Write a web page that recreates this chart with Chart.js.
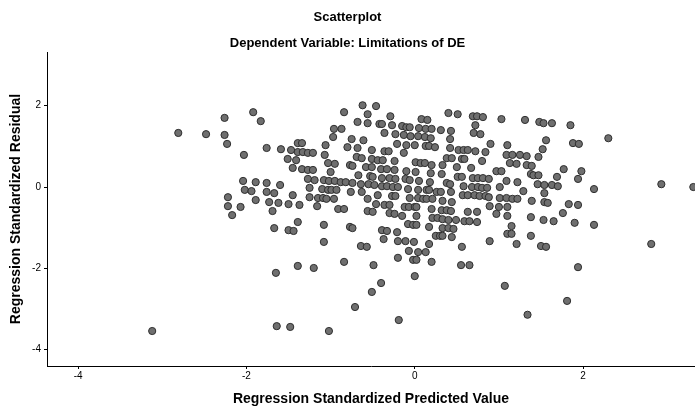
<!DOCTYPE html>
<html>
<head>
<meta charset="utf-8">
<script src="https://cdn.jsdelivr.net/npm/chart.js@4.4.1/dist/chart.umd.min.js"></script>
<style>
  html, body { margin: 0; padding: 0; background: #ffffff; }
  canvas { display: block; }
</style>
</head>
<body>
<canvas id="c" width="695" height="412"></canvas>
<script>
const chartTitle = 'Scatterplot';
const chartSubtitle = 'Dependent Variable: Limitations of DE';
const xAxisTitle = 'Regression Standardized Predicted Value';
const yAxisTitle = 'Regression Standardized Residual';
const xTicks = [-4, -2, 0, 2];
const yTicks = [-4, -2, 0, 2];

const predictedValues = [
  -1.92,-2.26,-1.83,-2.48,-2.26,-2.23,-1.76,-1.59,-1.47,-2.03,
  -0.62,-0.46,-0.84,-0.56,-0.29,-0.68,-0.56,-0.42,-0.39,-0.27,-0.96,-0.87,-0.36,-0.23,-0.97,-0.75,-0.61,-1.39,-1.34,-1.06,-0.21,-0.80,-0.68,-0.51,-0.36,-0.31,-1.39,-1.33,-1.27,-1.21,
  0.40,0.51,0.69,0.74,0.81,1.03,0.08,0.15,0.72,-0.15,-0.10,-0.06,0.05,0.13,0.20,0.31,0.43,0.70,0.78,-0.13,-0.05,0.04,0.12,0.19,0.42,0.90,-0.10,0.00,0.13,0.17,0.24,0.42,0.52,0.58,0.63,0.72,0.84,-0.13,
  1.31,1.48,1.53,1.63,1.85,2.30,1.56,1.10,1.88,1.95,1.52,1.09,1.16,1.25,1.33,1.47,
  -1.51,-1.41,-1.45,-2.04,-1.89,-1.76,-1.60,-2.02,-1.94,-1.76,-1.67,-1.45,-2.22,-1.89,-1.73,-1.62,-1.50,-2.22,-2.07,-1.69,-2.17,
  -1.07,-0.69,-0.63,-0.51,-0.44,-0.38,-0.24,-1.03,-0.95,-0.77,-0.74,-0.58,-0.51,-0.40,-0.33,-0.24,-1.34,-1.27,-1.21,-1.00,-0.67,-0.53,-0.50,-0.39,-0.30,-0.23,-1.27,-1.19,-1.08,-1.02,-0.95,-0.88,-0.82,-0.74,-0.64,-0.55,-0.48,-0.39,-0.33,-0.26,-0.20,-1.25,-1.10,-1.03,-0.99,-0.93,-0.76,-0.63,-0.44,-1.25,-1.15,-1.09,-1.05,-0.96,-0.56,-0.27,-0.23,-0.46,-0.36,-0.30,-1.37,-1.16,-0.91,-0.84,-0.56,-0.50,-0.30,-0.24,
  0.01,0.07,0.12,0.20,0.33,0.38,0.44,0.56,0.59,0.80,-0.10,0.01,0.19,0.32,0.50,0.67,0.97,1.03,-0.11,-0.06,0.05,0.18,0.38,0.42,0.51,0.56,0.69,0.75,0.81,0.88,-0.08,0.04,0.14,0.17,0.26,0.31,0.43,0.58,0.68,0.75,0.80,0.86,1.01,-0.06,0.04,0.10,0.14,0.21,0.33,0.44,0.57,0.63,0.71,0.77,0.84,0.88,1.01,-0.12,-0.07,0.00,0.02,0.20,0.32,0.38,0.43,0.63,0.74,0.89,1.00,0.97,
  1.13,1.21,1.33,1.39,1.77,1.98,1.38,1.41,1.47,1.69,1.94,1.09,1.22,1.46,1.54,1.63,1.70,1.29,2.13,1.54,1.09,1.16,1.22,1.39,1.54,1.58,1.83,1.94,1.10,1.76,1.10,1.38,
  -1.67,-1.50,-1.44,-1.65,
  -1.39,-1.08,-0.77,-0.74,-0.39,-0.33,-0.21,-1.08,-0.64,-0.57,-0.37,-0.20,-1.39,-1.20,-0.84,-0.49,-0.20,
  -0.15,0.02,0.21,0.27,0.33,0.40,0.49,0.59,0.65,0.74,-0.08,-0.02,0.02,0.17,0.33,0.40,0.46,0.25,0.30,0.33,0.44,-0.11,-0.01,0.17,0.89,-0.07,0.04,0.13,0.56,-0.02,0.02,0.20,0.55,0.65,0.00,
  1.53,1.65,1.90,2.13,1.15,1.10,1.15,1.38,1.21,1.50,1.56,1.94,
  -2.81,-3.12,-1.64,-1.48,-1.02,-0.71,-0.51,-0.40,-0.19,1.07,1.34,1.81,2.93,3.31,2.81
];

const residualValues = [
  1.84,1.70,1.62,1.30,1.28,1.06,0.96,0.93,0.91,0.79,
  2.01,1.99,1.84,1.79,1.74,1.60,1.57,1.55,1.55,1.52,1.43,1.43,1.33,1.30,1.23,1.18,1.15,1.08,1.08,1.03,1.06,0.98,0.96,0.91,0.88,0.88,0.86,0.86,0.84,0.84,
  1.82,1.79,1.74,1.74,1.72,1.67,1.67,1.65,1.52,1.50,1.47,1.47,1.45,1.43,1.43,1.40,1.38,1.33,1.30,1.28,1.25,1.25,1.23,1.20,1.18,1.06,1.03,1.03,1.01,1.01,0.98,0.96,0.91,0.91,0.91,0.88,0.86,0.84,
  1.65,1.60,1.57,1.57,1.52,1.20,1.15,1.03,1.08,1.06,0.93,0.79,0.79,0.79,0.76,0.74,
  0.69,0.66,0.47,0.15,0.12,0.10,0.05,-0.07,-0.10,-0.12,-0.15,-0.20,-0.25,-0.32,-0.37,-0.39,-0.42,-0.47,-0.49,-0.59,-0.69,
  0.79,0.74,0.71,0.69,0.66,0.66,0.64,0.59,0.57,0.54,0.52,0.49,0.49,0.44,0.44,0.42,0.44,0.42,0.42,0.37,0.29,0.27,0.25,0.22,0.22,0.20,0.20,0.17,0.17,0.15,0.15,0.12,0.12,0.10,0.07,0.07,0.05,0.02,0.02,0.00,0.00,-0.02,-0.05,-0.07,-0.07,-0.07,-0.12,-0.12,-0.20,-0.25,-0.27,-0.27,-0.29,-0.29,-0.29,-0.22,-0.22,-0.42,-0.44,-0.44,-0.44,-0.47,-0.54,-0.54,-0.59,-0.61,-0.64,-0.66,
  0.61,0.59,0.59,0.54,0.54,0.71,0.71,0.69,0.69,0.64,0.39,0.37,0.34,0.32,0.49,0.47,0.39,0.39,0.20,0.17,0.15,0.12,0.10,0.07,0.25,0.25,0.22,0.22,0.22,0.20,-0.05,-0.07,-0.07,-0.07,-0.12,-0.12,-0.12,0.02,0.00,0.00,-0.02,-0.02,0.00,-0.27,-0.27,-0.29,-0.29,-0.29,-0.34,-0.37,-0.20,-0.20,-0.20,-0.22,-0.22,-0.25,-0.27,-0.49,-0.49,-0.49,-0.49,-0.54,-0.57,-0.57,-0.59,-0.61,-0.61,-0.47,-0.49,-0.66,
  0.59,0.57,0.54,0.52,0.44,0.39,0.32,0.29,0.29,0.25,0.20,0.15,0.12,0.07,0.05,0.05,0.02,-0.10,-0.05,-0.15,-0.27,-0.29,-0.29,-0.34,-0.37,-0.39,-0.42,-0.44,-0.49,-0.64,-0.71,-0.74,
  -1.01,-1.06,-1.08,-2.11,
  -0.86,-0.93,-0.98,-1.01,-1.06,-1.08,-1.11,-1.35,-1.45,-1.47,-1.28,-1.33,-1.94,-1.99,-1.84,-1.92,-1.74,
  -0.71,-0.71,-0.76,-0.76,-0.79,-0.81,-0.81,-0.84,-0.84,-0.86,-0.91,-0.93,-0.93,-0.98,-1.01,-1.01,-1.03,-1.20,-1.20,-1.20,-1.23,-1.33,-1.35,-1.40,-1.33,-1.57,-1.60,-1.60,-1.47,-1.79,-1.79,-1.84,-1.92,-1.92,-2.19,
  -0.81,-0.84,-0.88,-0.93,-0.96,-1.15,-1.15,-1.20,-1.40,-1.45,-1.47,-1.97,
  1.33,-3.54,-3.42,-3.44,-3.54,-2.95,-2.58,-2.36,-3.27,-2.43,-3.14,-2.80,0.07,0.00,-1.40
];

const points = predictedValues.map((x, i) => ({ x: x, y: residualValues[i] }));

Chart.defaults.font.family = '"Liberation Sans", Arial, sans-serif';
Chart.defaults.color = '#000';

new Chart(document.getElementById('c'), {
  type: 'scatter',
  data: {
    datasets: [{
      data: points,
      pointRadius: 3.6,
      pointBackgroundColor: '#6f6f6f',
      pointBorderColor: '#2e2e2e',
      pointBorderWidth: 1,
      pointHoverRadius: 3.6
    }]
  },
  options: {
    responsive: false,
    animation: false,
    events: [],
    layout: { autoPadding: false, padding: { left: 0, right: 0, top: 0, bottom: 0 } },
    plugins: {
      legend: { display: false },
      tooltip: { enabled: false },
      title: {
        display: true,
        text: chartTitle,
        color: '#000',
        font: { size: 13, weight: 'bold' },
        padding: { top: 10, bottom: 6 }
      },
      subtitle: {
        display: true,
        text: chartSubtitle,
        color: '#000',
        font: { size: 13, weight: 'bold' },
        padding: { top: 3.6, bottom: 1.2 }
      }
    },
    scales: {
      x: {
        type: 'linear',
        min: -4.37,
        max: 3.33,
        afterBuildTicks: s => { s.ticks = xTicks.map(v => ({ value: v })); },
        afterFit: s => { s.height = 46; },
        ticks: { font: { size: 10 }, color: '#000', padding: 1 },
        grid: { display: true, drawOnChartArea: false, drawTicks: true, tickLength: 3, color: '#000' },
        border: { display: true, color: '#000', width: 1 },
        title: {
          display: true,
          text: xAxisTitle,
          color: '#000',
          font: { size: 14, weight: 'bold' },
          padding: { top: 0, bottom: 4.6 }
        }
      },
      y: {
        type: 'linear',
        min: -4.40,
        max: 3.32,
        afterBuildTicks: s => { s.ticks = yTicks.map(v => ({ value: v })); },
        afterFit: s => { s.width = 47; },
        ticks: { font: { size: 10 }, color: '#000', padding: 3 },
        grid: { display: true, drawOnChartArea: false, drawTicks: true, tickLength: 3, color: '#000' },
        border: { display: true, color: '#000', width: 1 },
        title: {
          display: true,
          text: yAxisTitle,
          color: '#000',
          font: { size: 14, weight: 'bold' },
          padding: { top: 7.5, bottom: 0 }
        }
      }
    }
  }
});
</script>
</body>
</html>
